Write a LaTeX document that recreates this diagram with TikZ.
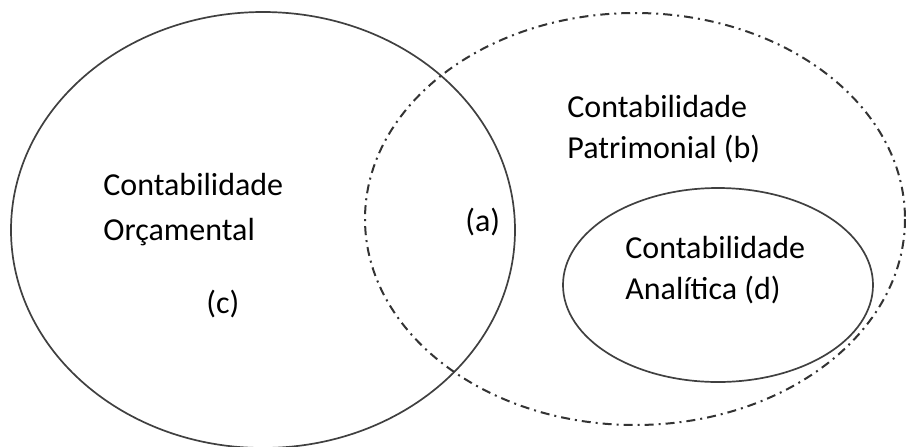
\documentclass[tikz,border=0pt]{standalone}
\usepackage{fontspec}
\setmainfont{Carlito}
\begin{document}
\begin{tikzpicture}[x=0.5pt,y=-0.5pt,
    setline/.style={draw=black!75,line width=0.85pt},
    dashdotline/.style={draw=black!80,line width=1pt,dash pattern=on 4.5pt off 2.5pt on 1pt off 2.5pt},
    lbl/.style={anchor=base west,inner sep=0pt,font=\fontsize{16}{19}\selectfont} ]
    \useasboundingbox (0,0) rectangle (906,446);
    % the three sets
    \draw [setline] (263,230) ellipse [x radius=252, y radius=218];
    \draw [dashdotline] (635,219) ellipse [x radius=270, y radius=206];
    \draw [setline] (718,285) ellipse [x radius=155, y radius=97];
    % labels
    \node at (103,195) [lbl] (co1) {Contabilidade};
    \node at (103,240) [lbl] (co2) {Orçamental};
    \node at (206,313) [lbl] (c) {(c)};
    \node at (465,231) [lbl] (a) {(a)};
    \node at (567,117) [lbl] (cp1) {Contabilidade};
    \node at (567,158) [lbl] (cp2) {Patrimonial (b)};
    \node at (625,258) [lbl] (ca1) {Contabilidade};
    \node at (625,299) [lbl] (ca2) {Analítica (d)};
\end{tikzpicture}
\end{document}
